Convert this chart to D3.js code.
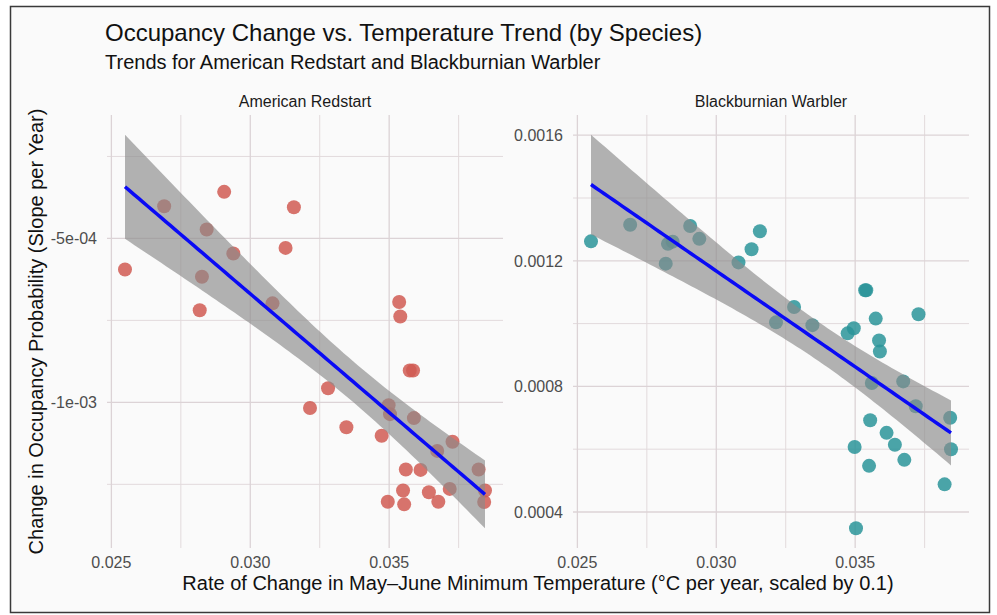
<!DOCTYPE html>
<html>
<head>
<meta charset="utf-8">
<script src="https://cdn.jsdelivr.net/npm/d3@7"></script>
<style>
  body { margin: 0; background: #fff; }
  text { font-family: "Liberation Sans", Arial, Helvetica, sans-serif; }
</style>
</head>
<body>
<div id="chart"></div>
<script>
// temperature trend per site (same x for both facets)
const tempTrend = [0.02549, 0.02690, 0.02818, 0.02826, 0.02843, 0.02906, 0.02939, 0.03080, 0.03127, 0.03157,
  0.03215, 0.03280, 0.03346, 0.03473, 0.03495, 0.03498, 0.03503, 0.03536, 0.03540, 0.03550,
  0.03554, 0.03560, 0.03574, 0.03586, 0.03589, 0.03613, 0.03643, 0.03673, 0.03677, 0.03718,
  0.03728, 0.03822, 0.03842, 0.03845];

const redstartSlope = [-5.95e-4, -4.02e-4, -7.19e-4, -6.17e-4, -4.73e-4, -3.58e-4, -5.46e-4, -6.98e-4, -5.29e-4, -4.05e-4,
  -1.017e-3, -9.57e-4, -1.076e-3, -1.102e-3, -1.303e-3, -1.009e-3, -1.036e-3, -6.94e-4, -7.38e-4, -1.269e-3,
  -1.311e-3, -1.205e-3, -9.03e-4, -9.03e-4, -1.048e-3, -1.206e-3, -1.274e-3, -1.148e-3, -1.303e-3, -1.264e-3,
  -1.120e-3, -1.205e-3, -1.304e-3, -1.269e-3];

const warblerSlope = [1.262e-3, 1.315e-3, 1.191e-3, 1.254e-3, 1.261e-3, 1.311e-3, 1.270e-3, 1.195e-3, 1.237e-3, 1.294e-3,
  1.004e-3, 1.053e-3, 0.995e-3, 0.969e-3, 0.985e-3, 0.607e-3, 0.348e-3, 1.106e-3, 1.106e-3, 0.547e-3,
  0.692e-3, 0.811e-3, 1.016e-3, 0.946e-3, 0.911e-3, 0.652e-3, 0.614e-3, 0.816e-3, 0.566e-3, 0.737e-3,
  1.030e-3, 0.488e-3, 0.700e-3, 0.600e-3];

const speciesNames = ["American Redstart", "Blackburnian Warbler"];
const xMajor = [0.025, 0.030, 0.035];
const xLabels = ["0.025", "0.030", "0.035"];
const redstartMajor = [-1e-3, -5e-4];
const redstartLabels = ["-1e-03", "-5e-04"];
const warblerMajor = [0.0004, 0.0008, 0.0012, 0.0016];
const warblerLabels = ["0.0004", "0.0008", "0.0012", "0.0016"];
const pointColors = ["#d05a52", "#2a9499"];

const width = 997;
const height = 615;
const panelTop = 115;
const panelBottom = 548;

const svg = d3.select("#chart")
  .append("svg")
  .attr("width", width)
  .attr("height", height);

// frame
svg.append("rect")
  .attr("x", 10.5).attr("y", 6.5)
  .attr("width", 979).attr("height", 606)
  .attr("fill", "#fafafa")
  .attr("stroke", "#3a3a3a")
  .attr("stroke-width", 1.5);

// simple lm with 95% band, like geom_smooth(method = "lm")
function linFit(xs, ys) {
  const n = xs.length;
  const mx = d3.mean(xs), my = d3.mean(ys);
  let sxx = 0, sxy = 0;
  xs.forEach((x, i) => { sxx += (x - mx) ** 2; sxy += (x - mx) * (ys[i] - my); });
  const b = sxy / sxx, a = my - b * mx;
  const s2 = d3.sum(xs, (x, i) => (ys[i] - a - b * x) ** 2) / (n - 2);
  const t = 2.0369; // qt(0.975, 32)
  const [x0, x1] = d3.extent(xs);
  return d3.range(80).map(i => {
    const x = x0 + i * (x1 - x0) / 79;
    const fit = a + b * x;
    const se = Math.sqrt(s2 * (1 / n + (x - mx) ** 2 / sxx));
    return { x: x, fit: fit, lo: fit - t * se, hi: fit + t * se };
  });
}

function minorBreaks(major, domain) {
  const step = major[1] - major[0];
  const ext = [major[0] - step, ...major, major[major.length - 1] + step];
  return ext.slice(1).map((v, i) => (v + ext[i]) / 2)
    .filter(v => v >= domain[0] && v <= domain[1]);
}

function expand(ext, k) {
  const pad = (ext[1] - ext[0]) * k;
  return [ext[0] - pad, ext[1] + pad];
}

const xDomain = expand(d3.extent(tempTrend), 0.05);
const xMinor = minorBreaks(xMajor, xDomain);

const panels = [
  { name: speciesNames[0], ys: redstartSlope, major: redstartMajor, labels: redstartLabels, color: pointColors[0], x0: 107, x1: 503 },
  { name: speciesNames[1], ys: warblerSlope, major: warblerMajor, labels: warblerLabels, color: pointColors[1], x0: 573, x1: 969 }
];

panels.forEach(p => {
  const band = linFit(tempTrend, p.ys);
  const yExt = d3.extent([...p.ys, ...band.map(d => d.lo), ...band.map(d => d.hi)]);
  const yDomain = expand(yExt, 0.05);

  const x = d3.scaleLinear().domain(xDomain).range([p.x0, p.x1]);
  const y = d3.scaleLinear().domain(yDomain).range([panelBottom, panelTop]);
  const yMinor = minorBreaks(p.major, yDomain);

  const g = svg.append("g");

  // grid
  g.selectAll(".hminor").data(yMinor).enter().append("line")
    .attr("x1", p.x0).attr("x2", p.x1)
    .attr("y1", d => y(d)).attr("y2", d => y(d))
    .attr("stroke", "#e2dadc").attr("stroke-width", 1);
  g.selectAll(".vminor").data(xMinor).enter().append("line")
    .attr("y1", panelTop).attr("y2", panelBottom)
    .attr("x1", d => x(d)).attr("x2", d => x(d))
    .attr("stroke", "#e2dadc").attr("stroke-width", 1);
  g.selectAll(".hmajor").data(p.major).enter().append("line")
    .attr("x1", p.x0).attr("x2", p.x1)
    .attr("y1", d => y(d)).attr("y2", d => y(d))
    .attr("stroke", "#dcd3d6").attr("stroke-width", 1.3);
  g.selectAll(".vmajor").data(xMajor).enter().append("line")
    .attr("y1", panelTop).attr("y2", panelBottom)
    .attr("x1", d => x(d)).attr("x2", d => x(d))
    .attr("stroke", "#dcd3d6").attr("stroke-width", 1.3);

  // points
  g.selectAll("circle").data(tempTrend).enter().append("circle")
    .attr("cx", d => x(d))
    .attr("cy", (d, i) => y(p.ys[i]))
    .attr("r", 7)
    .attr("fill", p.color)
    .attr("fill-opacity", 0.85);

  // confidence band + fit line
  g.append("path")
    .datum(band)
    .attr("d", d3.area().x(d => x(d.x)).y0(d => y(d.lo)).y1(d => y(d.hi)))
    .attr("fill", "#8a8a8a")
    .attr("fill-opacity", 0.65);
  g.append("path")
    .datum(band)
    .attr("d", d3.line().x(d => x(d.x)).y(d => y(d.fit)))
    .attr("fill", "none")
    .attr("stroke", "#0a0af5")
    .attr("stroke-width", 3.5);

  // tick labels
  g.selectAll(".ylab").data(p.major).enter().append("text")
    .attr("x", p.x0 - 10)
    .attr("y", d => y(d))
    .attr("dy", "0.36em")
    .attr("text-anchor", "end")
    .attr("font-size", 16)
    .attr("fill", "#4d4d4d")
    .text((d, i) => p.labels[i]);
  g.selectAll(".xlab").data(xMajor).enter().append("text")
    .attr("x", d => x(d))
    .attr("y", 568)
    .attr("text-anchor", "middle")
    .attr("font-size", 16)
    .attr("fill", "#4d4d4d")
    .text((d, i) => xLabels[i]);

  // strip label
  g.append("text")
    .attr("x", (p.x0 + p.x1) / 2)
    .attr("y", 107)
    .attr("text-anchor", "middle")
    .attr("font-size", 16)
    .attr("fill", "#1a1a1a")
    .text(p.name);
});

// titles
svg.append("text")
  .attr("x", 105).attr("y", 41)
  .attr("font-size", 24)
  .attr("fill", "#111")
  .text("Occupancy Change vs. Temperature Trend (by Species)");
svg.append("text")
  .attr("x", 105).attr("y", 69)
  .attr("font-size", 20)
  .attr("fill", "#111")
  .text("Trends for American Redstart and Blackburnian Warbler");

svg.append("text")
  .attr("x", 538).attr("y", 590)
  .attr("text-anchor", "middle")
  .attr("font-size", 20)
  .attr("fill", "#111")
  .text("Rate of Change in May\u2013June Minimum Temperature (\u00b0C per year, scaled by 0.1)");
svg.append("text")
  .attr("transform", `translate(43,${(panelTop + panelBottom) / 2}) rotate(-90)`)
  .attr("text-anchor", "middle")
  .attr("font-size", 20)
  .attr("fill", "#111")
  .text("Change in Occupancy Probability (Slope per Year)");
</script>
</body>
</html>
